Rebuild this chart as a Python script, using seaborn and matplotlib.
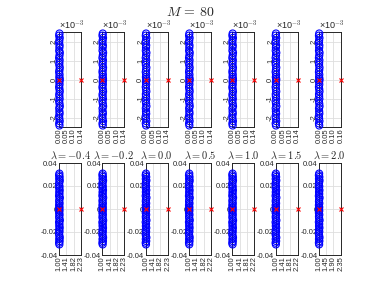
import numpy as np
import matplotlib
matplotlib.use("Agg")
import matplotlib.pyplot as plt
import seaborn as sns

# top row: eigenvalues (real part, imag part x1e-3), one set per panel (shared shape)
top_re = [0.0031, 0.0012, 0.0046, 0.0021, 0.0008, 0.0038, 0.0027, 0.0015, 0.0052, 0.0033,
          0.0009, 0.0041, 0.0024, 0.0018, 0.0049, 0.0030, 0.0011, 0.0036, 0.0022, 0.0044,
          0.0044, 0.0022, 0.0036, 0.0011, 0.0030, 0.0049, 0.0018, 0.0024, 0.0041, 0.0009,
          0.0033, 0.0052, 0.0015, 0.0027, 0.0038, 0.0008, 0.0021, 0.0046, 0.0012, 0.0031]
top_im = [2.42, 2.31, 2.19, 2.05, 1.93, 1.80, 1.68, 1.52, 1.41, 1.27,
          1.14, 1.02, 0.88, 0.77, 0.63, 0.50, 0.39, 0.26, 0.13, 0.04,
          -0.04, -0.13, -0.26, -0.39, -0.50, -0.63, -0.77, -0.88, -1.02, -1.14,
          -1.27, -1.41, -1.52, -1.68, -1.80, -1.93, -2.05, -2.19, -2.31, -2.42]
top_xmax = [0.145, 0.145, 0.145, 0.145, 0.145, 0.145, 0.16]
top_xlabels = [["0.00", "0.05", "0.10", "0.14"]] * 6 + [["0.00", "0.05", "0.10", "0.16"]]

# bottom row
bot_re = [1.021, 1.006, 1.034, 1.012, 1.043, 1.018, 1.002, 1.029, 1.009, 1.038,
          1.015, 1.025, 1.004, 1.047, 1.020, 1.011, 1.032, 1.007, 1.026, 1.014,
          1.014, 1.026, 1.007, 1.032, 1.011, 1.020, 1.047, 1.004, 1.025, 1.015,
          1.038, 1.009, 1.029, 1.002, 1.018, 1.043, 1.012, 1.034, 1.006, 1.021]
bot_im = [0.0308, 0.0293, 0.0279, 0.0262, 0.0248, 0.0231, 0.0215, 0.0197, 0.0182, 0.0164,
          0.0148, 0.0131, 0.0114, 0.0099, 0.0082, 0.0066, 0.0049, 0.0033, 0.0017, 0.0005,
          -0.0005, -0.0017, -0.0033, -0.0049, -0.0066, -0.0082, -0.0099, -0.0114, -0.0131, -0.0148,
          -0.0164, -0.0182, -0.0197, -0.0215, -0.0231, -0.0248, -0.0262, -0.0279, -0.0293, -0.0308]
lambdas = ["-0.4", "-0.2", "0.0", "0.5", "1.0", "1.5", "2.0"]
bot_xmax = [2.23, 2.23, 2.23, 2.22, 2.22, 2.22, 2.35]
bot_xlabels = [["1.00", "1.41", "1.82", "2.23"]] * 3 + [["1.00", "1.41", "1.82", "2.22"]] + \
              [["1.00", "1.41", "1.81", "2.22"]] * 2 + [["1.00", "1.45", "1.90", "2.35"]]

sns.set_style("white")
plt.rcParams['font.family'] = ['Liberation Sans', 'DejaVu Sans']
plt.rcParams['mathtext.fontset'] = 'cm'

W, H = 379, 285
fig = plt.figure(figsize=(W / 100, H / 100), dpi=100)

def style_axes(ax):
    for sp in ax.spines.values():
        sp.set_color('#262626')
        sp.set_linewidth(0.7)
    ax.grid(True, color='#dedede', linewidth=0.6)
    ax.set_axisbelow(True)
    ax.tick_params(direction='in', length=1.5, width=0.5, labelsize=5.5, pad=1, colors='#262626')

def draw(ax, re, im, xmin, xmax):
    sns.scatterplot(x=re, y=im, ax=ax, marker='o', s=26, facecolor='none',
                    edgecolor='blue', linewidth=0.8, clip_on=False, legend=False, zorder=3)
    ax.plot([xmin, xmax], [0, 0], 'x', color='red', markersize=3.5, mew=0.8,
            clip_on=False, zorder=4)

lefts = [59 + 43.3 * k for k in range(7)]
for k in range(7):
    # top row
    ax = fig.add_axes([lefts[k] / W, 1 - 127 / H, 22 / W, 95 / H])
    style_axes(ax)
    draw(ax, top_re, [v * 1e-3 for v in top_im], 0.0, top_xmax[k])
    ax.set_xlim(0, top_xmax[k])
    ax.set_ylim(-2.5e-3, 2.5e-3)
    ax.set_xticks(np.linspace(0, top_xmax[k], 4))
    ax.set_xticklabels(top_xlabels[k], rotation=90)
    ax.set_yticks([-2e-3, -1e-3, 0, 1e-3, 2e-3])
    ax.set_yticklabels(["-2", "-1", "0", "1", "2"], rotation=90, va='center')
    ax.text(0.0, 1.0, "\u00d710$^{\\mathsf{-3}}$", transform=ax.transAxes, fontsize=6.5,
            va='bottom', ha='left', color='#262626')

    # bottom row
    ax = fig.add_axes([lefts[k] / W, 1 - 255 / H, 22 / W, 92 / H])
    style_axes(ax)
    draw(ax, bot_re, bot_im, 1.0, bot_xmax[k])
    ax.set_xlim(1.0, bot_xmax[k])
    ax.set_ylim(-0.04, 0.04)
    ax.set_xticks(np.linspace(1.0, bot_xmax[k], 4))
    ax.set_xticklabels(bot_xlabels[k], rotation=90)
    ax.set_yticks([-0.04, -0.02, 0, 0.02, 0.04])
    ax.set_yticklabels(["-0.04", "-0.02", "0", "0.02", "0.04"])
    ax.set_title(r"$\lambda = %s$" % lambdas[k], fontsize=7.5, pad=3)

fig.text(190 / W, 1 - 12 / H, r"$M\,=\,80$", fontsize=10, ha='center', va='center')

fig.savefig("out.png", dpi=100)
